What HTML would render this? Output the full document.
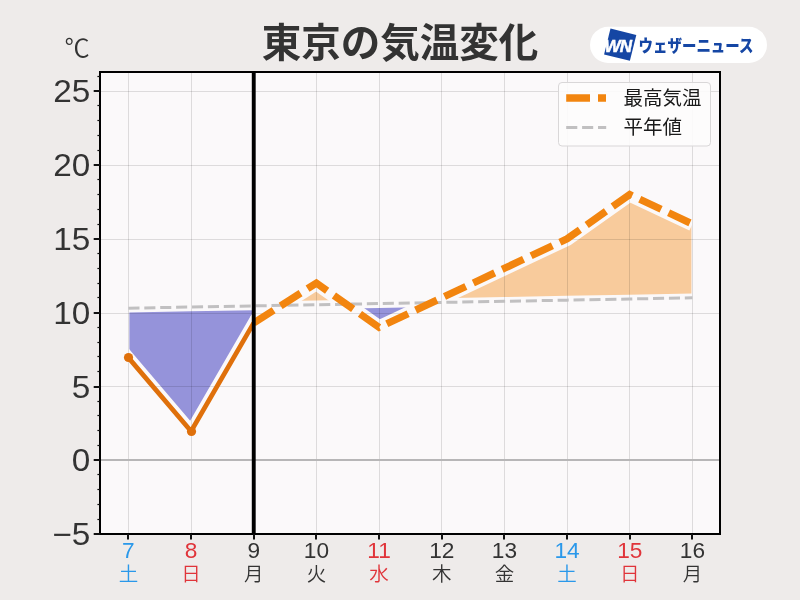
<!DOCTYPE html>
<html lang="ja"><head><meta charset="utf-8"><title>東京の気温変化</title>
<style>
html,body{margin:0;padding:0;background:#eeebea;}
body{width:800px;height:600px;overflow:hidden;font-family:"Liberation Sans","Noto Sans CJK JP",sans-serif;}
svg{display:block}
text{font-family:"Liberation Sans","Noto Sans CJK JP",sans-serif;}
text.n{font-family:"Liberation Sans",sans-serif;}
</style></head><body>
<svg width="800" height="600" viewBox="0 0 800 600">
<rect x="0" y="0" width="800" height="600" fill="#eeebea"/>

<rect x="100" y="72" width="620" height="462" fill="#fbf9fa"/>
<clipPath id="obs"><rect x="100" y="72" width="153.74" height="462"/></clipPath>
<polygon points="128.40,357.62 191.07,431.27 253.74,322.93 281.36,305.37 281.36,305.37 253.74,305.88 191.07,307.02 128.40,308.17" fill="#4240c0" fill-opacity="0.55" clip-path="url(#obs)"/>
<polygon points="128.40,357.62 191.07,431.27 253.74,322.93 281.36,305.37 281.36,305.37 253.74,305.88 191.07,307.02 128.40,308.17" fill="none" stroke="#fbf9fa" stroke-width="2" stroke-linejoin="miter"/>
<polygon points="281.36,305.37 316.41,283.08 346.27,304.18 346.27,304.18 316.41,304.73 281.36,305.37" fill="#f6870f" fill-opacity="0.40"/>
<polygon points="281.36,305.37 316.41,283.08 346.27,304.18 346.27,304.18 316.41,304.73 281.36,305.37" fill="none" stroke="#fbf9fa" stroke-width="2" stroke-linejoin="miter"/>
<polygon points="346.27,304.18 379.08,327.36 431.61,302.62 431.61,302.62 379.08,303.58 346.27,304.18" fill="#4240c0" fill-opacity="0.55"/>
<polygon points="346.27,304.18 379.08,327.36 431.61,302.62 431.61,302.62 379.08,303.58 346.27,304.18" fill="none" stroke="#fbf9fa" stroke-width="2" stroke-linejoin="miter"/>
<polygon points="431.61,302.62 441.75,297.84 504.42,268.32 567.09,238.80 629.76,194.52 692.43,224.04 692.43,297.84 629.76,298.99 567.09,300.14 504.42,301.28 441.75,302.43 431.61,302.62" fill="#f6870f" fill-opacity="0.40"/>
<polygon points="431.61,302.62 441.75,297.84 504.42,268.32 567.09,238.80 629.76,194.52 692.43,224.04 692.43,297.84 629.76,298.99 567.09,300.14 504.42,301.28 441.75,302.43 431.61,302.62" fill="none" stroke="#fbf9fa" stroke-width="2" stroke-linejoin="miter"/>
<polyline points="128.40,308.17 191.07,307.02 253.74,305.88 316.41,304.73 379.08,303.58 441.75,302.43 504.42,301.28 567.09,300.14 629.76,298.99 692.43,297.84" fill="none" stroke="#fbf9fa" stroke-width="8.6"/>
<polyline points="128.40,357.62 191.07,431.27 253.74,322.93" fill="none" stroke="#fbf9fa" stroke-width="12.2" stroke-linejoin="miter" stroke-linecap="square"/>
<polyline points="253.74,322.93 316.41,283.08 379.08,327.36 441.75,297.84 504.42,268.32 567.09,238.80 629.76,194.52 692.43,224.04" fill="none" stroke="#fbf9fa" stroke-width="14.2" stroke-linejoin="miter"/>
<g stroke="#000" stroke-opacity="0.118" stroke-width="1">
<line x1="128.50" y1="72" x2="128.50" y2="534"/>
<line x1="191.50" y1="72" x2="191.50" y2="534"/>
<line x1="253.50" y1="72" x2="253.50" y2="534"/>
<line x1="316.50" y1="72" x2="316.50" y2="534"/>
<line x1="379.50" y1="72" x2="379.50" y2="534"/>
<line x1="441.50" y1="72" x2="441.50" y2="534"/>
<line x1="504.50" y1="72" x2="504.50" y2="534"/>
<line x1="567.50" y1="72" x2="567.50" y2="534"/>
<line x1="629.50" y1="72" x2="629.50" y2="534"/>
<line x1="692.50" y1="72" x2="692.50" y2="534"/>
<line x1="100" y1="386.50" x2="720" y2="386.50"/>
<line x1="100" y1="313.50" x2="720" y2="313.50"/>
<line x1="100" y1="239.50" x2="720" y2="239.50"/>
<line x1="100" y1="165.50" x2="720" y2="165.50"/>
<line x1="100" y1="91.50" x2="720" y2="91.50"/>
</g>
<line x1="100" y1="460" x2="720" y2="460" stroke="#b7b6b7" stroke-width="2"/>
<polyline points="128.40,308.17 191.07,307.02 253.74,305.88 316.41,304.73 379.08,303.58 441.75,302.43 504.42,301.28 567.09,300.14 629.76,298.99 692.43,297.84" fill="none" stroke="#c1c0c1" stroke-width="3" stroke-dasharray="11.1 4.8"/>
<polyline points="128.40,357.62 191.07,431.27 253.74,322.93" fill="none" stroke="#df700b" stroke-width="4.7" stroke-linejoin="round"/>
<circle cx="128.50" cy="357.50" r="4.6" fill="#df700b"/>
<circle cx="191.50" cy="431.50" r="4.6" fill="#df700b"/>
<polyline points="253.74,322.93 316.41,283.08 379.08,327.36 441.75,297.84 504.42,268.32 567.09,238.80 629.76,194.52 692.43,224.04" fill="none" stroke="#f2850f" stroke-width="7.3" stroke-dasharray="23.6 8.3" stroke-linejoin="miter"/>
<line x1="253.74" y1="72" x2="253.74" y2="534" stroke="#000" stroke-width="3.9"/>
<rect x="100" y="72" width="620" height="462" fill="none" stroke="#000" stroke-width="2"/>
<g stroke="#111" stroke-width="2">
<line x1="128" y1="534" x2="128" y2="539.6"/>
<line x1="191" y1="534" x2="191" y2="539.6"/>
<line x1="254" y1="534" x2="254" y2="539.6"/>
<line x1="316" y1="534" x2="316" y2="539.6"/>
<line x1="379" y1="534" x2="379" y2="539.6"/>
<line x1="442" y1="534" x2="442" y2="539.6"/>
<line x1="504" y1="534" x2="504" y2="539.6"/>
<line x1="567" y1="534" x2="567" y2="539.6"/>
<line x1="630" y1="534" x2="630" y2="539.6"/>
<line x1="692" y1="534" x2="692" y2="539.6"/>
<line x1="93.7" y1="534" x2="100" y2="534"/>
<line x1="97.4" y1="519.5" x2="100" y2="519.5" stroke-width="1.2"/>
<line x1="97.4" y1="504.5" x2="100" y2="504.5" stroke-width="1.2"/>
<line x1="97.4" y1="489.5" x2="100" y2="489.5" stroke-width="1.2"/>
<line x1="97.4" y1="474.5" x2="100" y2="474.5" stroke-width="1.2"/>
<line x1="93.7" y1="460" x2="100" y2="460"/>
<line x1="97.4" y1="445.5" x2="100" y2="445.5" stroke-width="1.2"/>
<line x1="97.4" y1="430.5" x2="100" y2="430.5" stroke-width="1.2"/>
<line x1="97.4" y1="415.5" x2="100" y2="415.5" stroke-width="1.2"/>
<line x1="97.4" y1="401.5" x2="100" y2="401.5" stroke-width="1.2"/>
<line x1="93.7" y1="387" x2="100" y2="387"/>
<line x1="97.4" y1="371.5" x2="100" y2="371.5" stroke-width="1.2"/>
<line x1="97.4" y1="356.5" x2="100" y2="356.5" stroke-width="1.2"/>
<line x1="97.4" y1="342.5" x2="100" y2="342.5" stroke-width="1.2"/>
<line x1="97.4" y1="327.5" x2="100" y2="327.5" stroke-width="1.2"/>
<line x1="93.7" y1="313" x2="100" y2="313"/>
<line x1="97.4" y1="297.5" x2="100" y2="297.5" stroke-width="1.2"/>
<line x1="97.4" y1="283.5" x2="100" y2="283.5" stroke-width="1.2"/>
<line x1="97.4" y1="268.5" x2="100" y2="268.5" stroke-width="1.2"/>
<line x1="97.4" y1="253.5" x2="100" y2="253.5" stroke-width="1.2"/>
<line x1="93.7" y1="239" x2="100" y2="239"/>
<line x1="97.4" y1="224.5" x2="100" y2="224.5" stroke-width="1.2"/>
<line x1="97.4" y1="209.5" x2="100" y2="209.5" stroke-width="1.2"/>
<line x1="97.4" y1="194.5" x2="100" y2="194.5" stroke-width="1.2"/>
<line x1="97.4" y1="179.5" x2="100" y2="179.5" stroke-width="1.2"/>
<line x1="93.7" y1="165" x2="100" y2="165"/>
<line x1="97.4" y1="150.5" x2="100" y2="150.5" stroke-width="1.2"/>
<line x1="97.4" y1="135.5" x2="100" y2="135.5" stroke-width="1.2"/>
<line x1="97.4" y1="120.5" x2="100" y2="120.5" stroke-width="1.2"/>
<line x1="97.4" y1="105.5" x2="100" y2="105.5" stroke-width="1.2"/>
<line x1="93.7" y1="91" x2="100" y2="91"/>
<line x1="97.4" y1="76.5" x2="100" y2="76.5" stroke-width="1.2"/>
</g>
<g font-size="31" fill="#333" text-anchor="end">
<text class="n" transform="translate(90.3 545.10) scale(1.075 1)">−5</text>
<text class="n" transform="translate(90.3 471.30) scale(1.075 1)">0</text>
<text class="n" transform="translate(90.3 397.50) scale(1.075 1)">5</text>
<text class="n" transform="translate(90.3 323.70) scale(1.075 1)">10</text>
<text class="n" transform="translate(90.3 249.90) scale(1.075 1)">15</text>
<text class="n" transform="translate(90.3 176.10) scale(1.075 1)">20</text>
<text class="n" transform="translate(90.3 102.30) scale(1.075 1)">25</text>
</g>
<text transform="translate(128.40 557.8) scale(1.06 1)" font-size="21.4" fill="#2a98ea" text-anchor="middle" class="n">7</text>
<text x="128.40" y="580.6" font-size="19.5" font-weight="350" fill="#2a98ea" text-anchor="middle">土</text>
<text transform="translate(191.07 557.8) scale(1.06 1)" font-size="21.4" fill="#e0343a" text-anchor="middle" class="n">8</text>
<text x="191.07" y="580.6" font-size="19.5" font-weight="350" fill="#e0343a" text-anchor="middle">日</text>
<text transform="translate(253.74 557.8) scale(1.06 1)" font-size="21.4" fill="#333" text-anchor="middle" class="n">9</text>
<text x="253.74" y="580.6" font-size="19.5" font-weight="350" fill="#333" text-anchor="middle">月</text>
<text transform="translate(316.41 557.8) scale(1.06 1)" font-size="21.4" fill="#333" text-anchor="middle" class="n">10</text>
<text x="316.41" y="580.6" font-size="19.5" font-weight="350" fill="#333" text-anchor="middle">火</text>
<text transform="translate(379.08 557.8) scale(1.06 1)" font-size="21.4" fill="#e0343a" text-anchor="middle" class="n">11</text>
<text x="379.08" y="580.6" font-size="19.5" font-weight="350" fill="#e0343a" text-anchor="middle">水</text>
<text transform="translate(441.75 557.8) scale(1.06 1)" font-size="21.4" fill="#333" text-anchor="middle" class="n">12</text>
<text x="441.75" y="580.6" font-size="19.5" font-weight="350" fill="#333" text-anchor="middle">木</text>
<text transform="translate(504.42 557.8) scale(1.06 1)" font-size="21.4" fill="#333" text-anchor="middle" class="n">13</text>
<text x="504.42" y="580.6" font-size="19.5" font-weight="350" fill="#333" text-anchor="middle">金</text>
<text transform="translate(567.09 557.8) scale(1.06 1)" font-size="21.4" fill="#2a98ea" text-anchor="middle" class="n">14</text>
<text x="567.09" y="580.6" font-size="19.5" font-weight="350" fill="#2a98ea" text-anchor="middle">土</text>
<text transform="translate(629.76 557.8) scale(1.06 1)" font-size="21.4" fill="#e0343a" text-anchor="middle" class="n">15</text>
<text x="629.76" y="580.6" font-size="19.5" font-weight="350" fill="#e0343a" text-anchor="middle">日</text>
<text transform="translate(692.43 557.8) scale(1.06 1)" font-size="21.4" fill="#333" text-anchor="middle" class="n">16</text>
<text x="692.43" y="580.6" font-size="19.5" font-weight="350" fill="#333" text-anchor="middle">月</text>
<text transform="translate(64.6 56.6) scale(1.03 1)" font-size="24.5" font-weight="350" fill="#333">℃</text>
<text x="400" y="57" font-size="39.5" font-weight="700" fill="#333" text-anchor="middle">東京の気温変化</text>
<rect x="558.5" y="82.5" width="152" height="63.5" rx="3.5" fill="#fdfcfc" fill-opacity="0.9" stroke="#d9d7d8" stroke-width="1"/>
<path d="M566.2 98H590M598 98H606" stroke="#f2850f" stroke-width="7.5" fill="none"/>
<path d="M566.2 127.4H606.2" stroke="#c1c0c1" stroke-width="3" stroke-dasharray="11.1 4.8" fill="none"/>
<text x="623.5" y="105" font-size="19.5" font-weight="400" fill="#1a1a1a">最高気温</text>
<text x="623.5" y="133.5" font-size="19.5" font-weight="400" fill="#1a1a1a">平年値</text>
<rect x="590" y="26.8" width="177" height="36.2" rx="18.1" fill="#fff"/>
<g transform="rotate(14 620.2 44.7)"><rect x="606.9" y="31.4" width="26.6" height="26.6" fill="#1546a4"/></g>
<text x="617.9" y="52.2" font-size="17" font-weight="700" font-style="italic" fill="#fff" stroke="#fff" stroke-width="0.5" text-anchor="middle" letter-spacing="-0.7" class="n">WN</text>
<text transform="translate(638.6 51.8) scale(0.877 1)" font-size="16.5" font-weight="900" fill="#1546a4">ウェザーニュース</text>
</svg></body></html>
